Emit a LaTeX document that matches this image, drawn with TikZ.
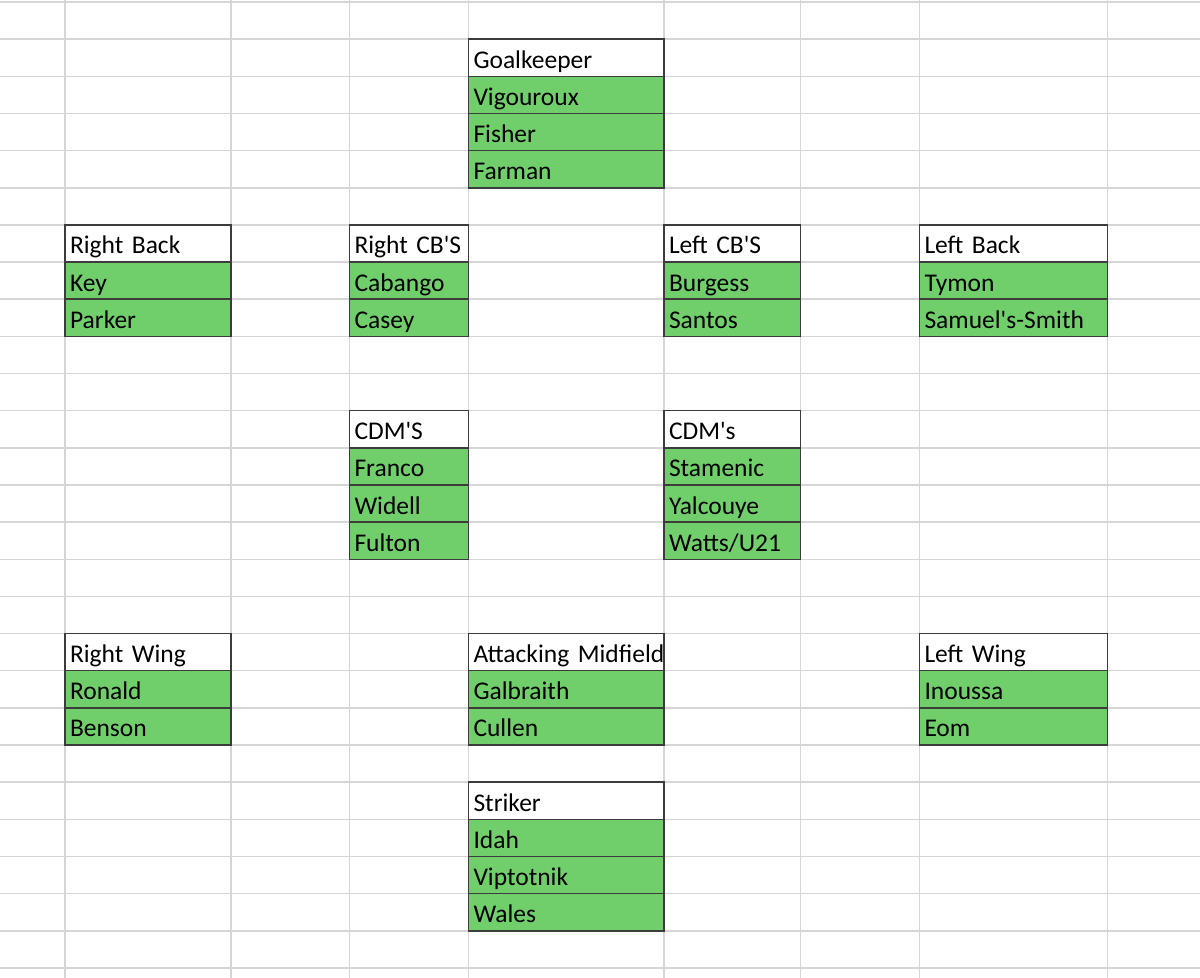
\documentclass[tikz,border=0pt]{standalone}
\usepackage{fontspec}
\setmainfont{Carlito}[WordSpace=0.7]
\usepackage{tikz}
\usetikzlibrary{positioning}

\definecolor{pitchgreen}{RGB}{112,207,107}
\definecolor{boxline}{RGB}{60,60,60}
\definecolor{gridline}{RGB}{214,214,214}

\newcommand{\cellfont}{\fontsize{25.5bp}{27bp}\selectfont
  \hyphenpenalty=10000\relax\exhyphenpenalty=10000\relax}

\tikzset{
  cell/.style={draw=boxline, line width=1.5bp, outer sep=0pt, inner xsep=5bp, inner ysep=0pt,
    minimum height=37.15bp, text height=26bp, text depth=5bp, align=left, text width=#1,
    anchor=north west, font=\cellfont},
  head/.style={cell=#1, fill=white},
  player/.style={cell=#1, fill=pitchgreen}
}

\begin{document}
\begin{tikzpicture}[x=1bp, y=-1bp]
  \useasboundingbox (0,0) rectangle (1200,978);

  % sheet grid
  \foreach \x in {65,231,349.5,468.5,664,800.5,919.5,1107.5}
    \draw[gridline, line width=1.5bp] (\x,0) -- (\x,978);
  \foreach \k in {0,...,26}
    \draw[gridline, line width=1.5bp] (0,2+37.15*\k) -- (1200,2+37.15*\k);

  % goalkeeper
  \node[head=185.5bp] (gk) at (468.5,39.15) {Goalkeeper};
  \node[player=185.5bp, below=0pt of gk] (gk1) {Vigouroux};
  \node[player=185.5bp, below=0pt of gk1] (gk2) {Fisher};
  \node[player=185.5bp, below=0pt of gk2] (gk3) {Farman};

  % defence
  \node[head=156bp] (rb) at (65,224.9) {Right Back};
  \node[player=156bp, below=0pt of rb] (rb1) {Key};
  \node[player=156bp, below=0pt of rb1] (rb2) {Parker};

  \node[head=109bp] (rcb) at (349.5,224.9) {Right~CB\textquotesingle S};
  \node[player=109bp, below=0pt of rcb] (rcb1) {Cabango};
  \node[player=109bp, below=0pt of rcb1] (rcb2) {Casey};

  \node[head=126.5bp] (lcb) at (664,224.9) {Left CB\textquotesingle S};
  \node[player=126.5bp, below=0pt of lcb] (lcb1) {Burgess};
  \node[player=126.5bp, below=0pt of lcb1] (lcb2) {Santos};

  \node[head=178bp] (lb) at (919.5,224.9) {Left Back};
  \node[player=178bp, below=0pt of lb] (lb1) {Tymon};
  \node[player=178bp, below=0pt of lb1] (lb2) {Samuel\textquotesingle s-Smith};

  % holding midfield
  \node[head=109bp] (rdm) at (349.5,410.65) {CDM\textquotesingle S};
  \node[player=109bp, below=0pt of rdm] (rdm1) {Franco};
  \node[player=109bp, below=0pt of rdm1] (rdm2) {Widell};
  \node[player=109bp, below=0pt of rdm2] (rdm3) {Fulton};

  \node[head=126.5bp] (ldm) at (664,410.65) {CDM\textquotesingle s};
  \node[player=126.5bp, below=0pt of ldm] (ldm1) {Stamenic};
  \node[player=126.5bp, below=0pt of ldm1] (ldm2) {Yalcouye};
  \node[player=126.5bp, below=0pt of ldm2] (ldm3) {Watts/U21};

  % attack
  \node[head=156bp] (rw) at (65,633.55) {Right Wing};
  \node[player=156bp, below=0pt of rw] (rw1) {Ronald};
  \node[player=156bp, below=0pt of rw1] (rw2) {Benson};

  \node[head=185.5bp] (am) at (468.5,633.55) {Attacking~Midfield};
  \node[player=185.5bp, below=0pt of am] (am1) {Galbraith};
  \node[player=185.5bp, below=0pt of am1] (am2) {Cullen};

  \node[head=178bp] (lw) at (919.5,633.55) {Left Wing};
  \node[player=178bp, below=0pt of lw] (lw1) {Inoussa};
  \node[player=178bp, below=0pt of lw1] (lw2) {Eom};

  \node[head=185.5bp] (st) at (468.5,782.15) {Striker};
  \node[player=185.5bp, below=0pt of st] (st1) {Idah};
  \node[player=185.5bp, below=0pt of st1] (st2) {Viptotnik};
  \node[player=185.5bp, below=0pt of st2] (st3) {Wales};
\end{tikzpicture}
\end{document}
